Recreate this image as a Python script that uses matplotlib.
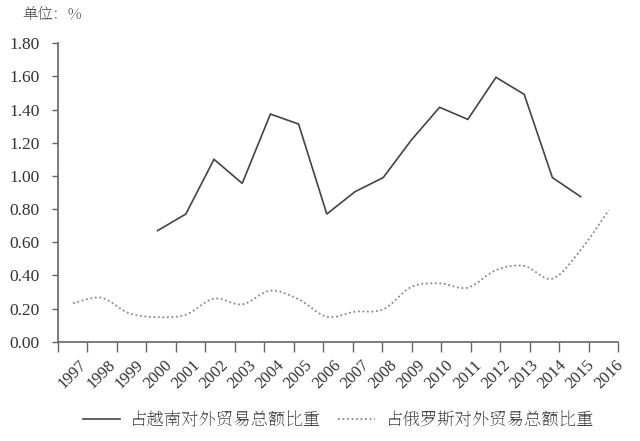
import numpy as np
import matplotlib
matplotlib.use("Agg")
import matplotlib.pyplot as plt
from matplotlib.path import Path
from matplotlib.patches import PathPatch
from matplotlib.lines import Line2D
import matplotlib.transforms as mtransforms

years = [str(y) for y in range(1997, 2017)]
vietnam = [None, None, None, 0.67, 0.77, 1.10, 0.955, 1.373, 1.313, 0.77,
           0.905, 0.99, 1.217, 1.414, 1.341, 1.595, 1.492, 0.99, 0.875, None]
russia = [0.232, 0.265, 0.171, 0.148, 0.163, 0.26, 0.225, 0.308, 0.256, 0.151,
          0.181, 0.195, 0.33, 0.352, 0.326, 0.432, 0.457, 0.38, 0.553, 0.794]
yticks = [0.0, 0.2, 0.4, 0.6, 0.8, 1.0, 1.2, 1.4, 1.6, 1.8]
unit_label = "单位：%"
legend_labels = ["占越南对外贸易总额比重", "占俄罗斯对外贸易总额比重"]

plt.rcParams['font.family'] = ['Liberation Serif', 'Noto Serif SC', 'Noto Sans CJK SC']
cjk = ['Noto Serif SC', 'Noto Serif CJK JP', 'Noto Sans CJK SC', 'DejaVu Sans']
tick_color = '#333333'
axis_color = '#666666'

fig = plt.figure(figsize=(6.4, 4.41), dpi=100)
ax = fig.add_axes([58/640, 1-341.7/441, 560/640, (341.7-43.3)/441])

x = np.arange(len(years))

# Vietnam: straight segments
vx = [xi for xi, v in zip(x, vietnam) if v is not None]
vy = [v for v in vietnam if v is not None]
ax.plot(vx, vy, color='#444444', lw=1.2, solid_joinstyle='miter')

# Russia: smoothed (Catmull-Rom style bezier, like Excel smoothing)
def smooth_path(xs, ys):
    pts = np.column_stack([xs, ys]).astype(float)
    n = len(pts)
    verts = [pts[0]]
    codes = [Path.MOVETO]
    for i in range(n - 1):
        p0 = pts[i - 1] if i > 0 else pts[i]
        p1 = pts[i]
        p2 = pts[i + 1]
        p3 = pts[i + 2] if i + 2 < n else pts[i + 1]
        c1 = p1 + (p2 - p0) / 6.0
        c2 = p2 - (p3 - p1) / 6.0
        verts += [c1, c2, p2]
        codes += [Path.CURVE4] * 3
    return Path(verts, codes)

rp = smooth_path(x, russia)
ax.add_patch(PathPatch(rp, facecolor='none', edgecolor='#8a8a8a', lw=1.3,
                       linestyle=(0, (1, 1.5))))

xl = (58 - 73) / 28.2
xr = (618 - 73) / 28.2
ax.set_xlim(xl, xr)
ax.set_ylim(0, 1.8)

for s in ['top', 'right']:
    ax.spines[s].set_visible(False)
for s in ['left', 'bottom']:
    ax.spines[s].set_color(axis_color)
    ax.spines[s].set_linewidth(1.2)

ax.set_yticks(yticks)
ax.set_yticklabels([f"{v:.2f}" for v in yticks])
ax.tick_params(axis='y', direction='out', length=4, width=1.0,
               color=axis_color, pad=9, labelsize=12.5, labelcolor=tick_color)

ax.set_xticks(x)
ax.set_xticklabels(years, rotation=45, ha='right', va='top',
                   rotation_mode='anchor')
ax.tick_params(axis='x', which='major', length=0, pad=11,
               labelsize=12, labelcolor=tick_color)
offset = mtransforms.ScaledTranslation(6/100, 0, fig.dpi_scale_trans)
for lab in ax.get_xticklabels():
    lab.set_transform(lab.get_transform() + offset)

ax.set_xticks(np.linspace(xl, xr, len(years)), minor=True)
ax.tick_params(axis='x', which='minor', direction='out', length=7.5,
               width=1.0, color=axis_color)

fig.text(22/640, 1-15/441, unit_label, fontfamily=cjk, fontsize=11,
         color='#444444', ha='left', va='center')

handles = [Line2D([], [], color='#444444', lw=1.2),
           Line2D([], [], color='#8a8a8a', lw=1.3, linestyle=(0, (1, 1.5)))]
fig.legend(handles, legend_labels, loc='center', bbox_to_anchor=(338.5/640, 1-420/441),
           ncol=2, frameon=False,
           prop={'family': cjk, 'size': 12.5},
           handlelength=2.1, handletextpad=0.6, columnspacing=1.0,
           labelcolor='#444444')

fig.savefig('out.png', dpi=100)
